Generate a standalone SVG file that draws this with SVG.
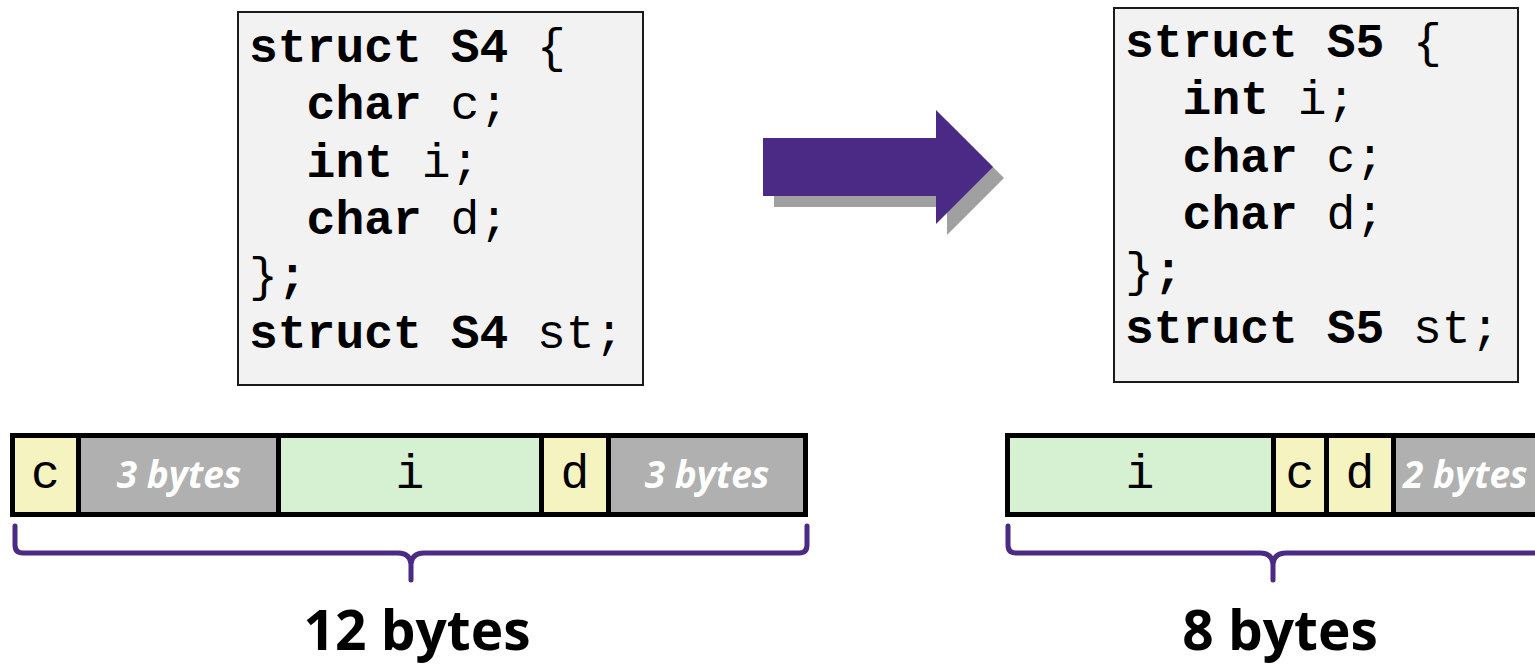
<svg xmlns="http://www.w3.org/2000/svg" width="1535" height="665" viewBox="0 0 1535 665">
  <style>
    .code { fill: #f2f2f2; stroke: #1a1a1a; stroke-width: 2; }
    .mono { font-family: "Liberation Mono", "Courier New", monospace; font-size: 48px; fill: #000; white-space: pre; }
    .kw { font-weight: bold; }
    .cell { stroke: #000; stroke-width: 5; }
    .chr { fill: #f5f4c0; }
    .int { fill: #d6f0d2; }
    .pad { fill: #b0b0b0; }
    .padtxt { font-family: "Open Sans", "Liberation Sans", sans-serif; font-size: 37px; font-weight: bold; font-style: italic; fill: #fff; }
    .brace { fill: none; stroke: #4b2a85; stroke-width: 5; stroke-linecap: round; stroke-linejoin: round; }
    .total { font-family: "Open Sans", "Liberation Sans", sans-serif; font-size: 55px; font-weight: bold; fill: #000; text-anchor: middle; }
  </style>

  <!-- struct S4 declaration -->
  <g id="code-s4">
    <rect class="code" x="238" y="12" width="405" height="373"/>
    <text class="mono" x="249" y="62"><tspan class="kw">struct S4</tspan> {</text>
    <text class="mono" x="306.6" y="119"><tspan class="kw">char</tspan> c;</text>
    <text class="mono" x="306.6" y="177"><tspan class="kw">int</tspan> i;</text>
    <text class="mono" x="306.6" y="234"><tspan class="kw">char</tspan> d;</text>
    <text class="mono" x="249" y="291">}<tspan class="kw">;</tspan></text>
    <text class="mono" x="249" y="348"><tspan class="kw">struct S4</tspan> st;</text>
  </g>

  <!-- struct S5 declaration -->
  <g id="code-s5">
    <rect class="code" x="1114" y="8" width="404" height="374"/>
    <text class="mono" x="1125" y="57"><tspan class="kw">struct S5</tspan> {</text>
    <text class="mono" x="1182.6" y="114"><tspan class="kw">int</tspan> i;</text>
    <text class="mono" x="1182.6" y="172"><tspan class="kw">char</tspan> c;</text>
    <text class="mono" x="1182.6" y="229"><tspan class="kw">char</tspan> d;</text>
    <text class="mono" x="1125" y="286">}<tspan class="kw">;</tspan></text>
    <text class="mono" x="1125" y="343"><tspan class="kw">struct S5</tspan> st;</text>
  </g>

  <!-- reordering arrow with drop shadow -->
  <g id="arrow">
    <polygon fill="#a0a0a0" points="774,149 947,149 947,121 1004,178 947,235 947,207 774,207"/>
    <polygon fill="#4b2a85" points="763,138 936,138 936,110 993,167 936,224 936,196 763,196"/>
  </g>

  <!-- S4 memory layout: 12 bytes -->
  <g id="layout-s4">
    <rect class="cell chr" x="12.5" y="435.5" width="66" height="79"/>
    <rect class="cell pad" x="78.5" y="435.5" width="200" height="79"/>
    <rect class="cell int" x="278.5" y="435.5" width="263" height="79"/>
    <rect class="cell chr" x="541.5" y="435.5" width="67" height="79"/>
    <rect class="cell pad" x="608.5" y="435.5" width="197" height="79"/>
    <text class="mono" x="45.5" y="488" text-anchor="middle">c</text>
    <text class="padtxt" x="179" y="488" text-anchor="middle">3 bytes</text>
    <text class="mono" x="410" y="488" text-anchor="middle">i</text>
    <text class="mono" x="575" y="488" text-anchor="middle">d</text>
    <text class="padtxt" x="707" y="488" text-anchor="middle">3 bytes</text>
  </g>

  <!-- S5 memory layout: 8 bytes -->
  <g id="layout-s5">
    <rect class="cell int" x="1007.5" y="435.5" width="266" height="79"/>
    <rect class="cell chr" x="1273.5" y="435.5" width="53" height="79"/>
    <rect class="cell chr" x="1326.5" y="435.5" width="67" height="79"/>
    <rect class="cell pad" x="1393.5" y="435.5" width="150" height="79"/>
    <text class="mono" x="1140" y="488" text-anchor="middle">i</text>
    <text class="mono" x="1300" y="488" text-anchor="middle">c</text>
    <text class="mono" x="1360" y="488" text-anchor="middle">d</text>
    <text class="padtxt" x="1403" y="488">2 bytes</text>
  </g>

  <!-- size braces -->
  <g id="connectors">
    <path class="brace" d="M15,526 V545 Q15,553 23,553 H398 Q411,553 411,566 V580 M411,566 Q411,553 424,553 H799 Q807,553 807,545 V526"/>
    <path class="brace" d="M1008,526 V545 Q1008,553 1016,553 H1260 Q1273,553 1273,566 V580 M1273,566 Q1273,553 1286,553 H1545"/>
  </g>

  <g id="size-s4">
    <text class="total" x="417" y="650">12 bytes</text>
  </g>
  <g id="size-s5">
    <text class="total" x="1280" y="650">8 bytes</text>
  </g>
</svg>
